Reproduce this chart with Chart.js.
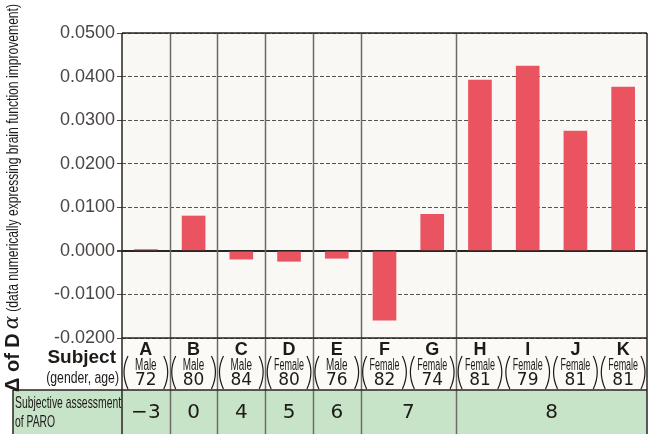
<!DOCTYPE html>
<html>
<head>
<meta charset="utf-8">
<script src="https://cdn.jsdelivr.net/npm/chart.js@4"></script>
<style>
  html, body { margin: 0; padding: 0; background: #fff; }
  #wrap { width: 656px; height: 434px; }
</style>
</head>
<body>
<div id="wrap"><canvas id="canvas" width="656" height="434"></canvas></div>
<script>
// données
const subjects = ["A", "B", "C", "D", "E", "F", "G", "H", "I", "J", "K"];
const genders = ["Male", "Male", "Male", "Female", "Male", "Female", "Female", "Female", "Female", "Female", "Female"];
const ages = ["72", "80", "84", "80", "76", "82", "74", "81", "79", "81", "81"];
const deltaDa = [0.0003, 0.0080, -0.0019, -0.0024, -0.0017, -0.0159, 0.0084, 0.0392, 0.0424, 0.0275, 0.0376];
const paroScores = [-3, 0, 4, 5, 6, 7, 7, 8, 8, 8, 8];
const yTicks = [0.05, 0.04, 0.03, 0.02, 0.01, 0, -0.01, -0.02];

const sans = "'Liberation Sans', Arial, sans-serif";
const round = "'DejaVu Sans', 'Noto Sans', sans-serif";

// texte étroit : police normale compressée horizontalement
function narrowText(ctx, text, x, y, size, sx) {
  ctx.save();
  ctx.font = size + "px " + sans;
  ctx.translate(x, y);
  ctx.scale(sx, 1);
  ctx.fillText(text, 0, 0);
  ctx.restore();
}

// regrouper les sujets qui ont la même note PARO
function paroGroups() {
  const groups = [];
  paroScores.forEach((s, i) => {
    const last = groups[groups.length - 1];
    if (last && last.score === s) last.end = i;
    else groups.push({ score: s, start: i, end: i });
  });
  return groups;
}

const tablePlugin = {
  id: "tablePlugin",
  beforeDraw(chart) {
    const { ctx, chartArea: a } = chart;
    ctx.save();
    ctx.fillStyle = "#f9f8f4";
    ctx.fillRect(a.left, a.top, a.right - a.left, a.bottom - a.top);
    ctx.fillStyle = "#fbfaf7";
    ctx.fillRect(a.left, a.bottom, a.right - a.left, 52);
    ctx.restore();
  },
  afterDraw(chart) {
    const { ctx, chartArea: a } = chart;
    const x = chart.scales.x;
    const half = (x.getPixelForValue(1) - x.getPixelForValue(0)) / 2;
    const rowTop = a.bottom;
    const greenTop = a.bottom + 52;
    const H = chart.height;
    ctx.save();

    // rangée verte
    ctx.fillStyle = "#c7e4c8";
    ctx.fillRect(13, greenTop, a.right - 13, H - greenTop);

    // lignes verticales entre groupes
    const groups = paroGroups();
    ctx.strokeStyle = "#6f6a66";
    ctx.lineWidth = 1.5;
    groups.forEach((g, gi) => {
      if (gi === 0) return;
      const px = Math.round(x.getPixelForValue(g.start) - half) + 0.5;
      ctx.beginPath();
      ctx.moveTo(px, a.top);
      ctx.lineTo(px, H);
      ctx.stroke();
    });

    // bordures
    ctx.strokeStyle = "#2a2522";
    ctx.lineWidth = 1.5;
    ctx.beginPath();
    ctx.moveTo(a.left, a.top); ctx.lineTo(a.right, a.top);
    ctx.moveTo(a.left, a.top); ctx.lineTo(a.left, H);
    ctx.moveTo(a.right, a.top); ctx.lineTo(a.right, H);
    ctx.moveTo(a.left, rowTop); ctx.lineTo(a.right, rowTop);
    ctx.moveTo(13, greenTop); ctx.lineTo(a.right, greenTop);
    ctx.moveTo(13, greenTop); ctx.lineTo(13, H);
    ctx.stroke();

    // sujets
    ctx.fillStyle = "#1e1a18";
    ctx.textAlign = "center";
    ctx.textBaseline = "middle";
    subjects.forEach((s, i) => {
      const cx = x.getPixelForValue(i);
      ctx.font = "bold 18px " + sans;
      ctx.fillText(s, cx, rowTop + 12);
      const g = genders[i];
      narrowText(ctx, g, cx, rowTop + 28, 16, g === "Female" ? 0.56 : 0.62);
      ctx.font = "17px " + round;
      ctx.fillText(ages[i], cx, rowTop + 43);
      // parenthèses
      ctx.strokeStyle = "#1e1a18";
      ctx.lineWidth = 1.2;
      const pw = half - 1;
      ctx.beginPath();
      ctx.moveTo(cx - pw + 5, rowTop + 18);
      ctx.quadraticCurveTo(cx - pw - 3, rowTop + 34, cx - pw + 5, rowTop + 51);
      ctx.moveTo(cx + pw - 5, rowTop + 18);
      ctx.quadraticCurveTo(cx + pw + 3, rowTop + 34, cx + pw - 5, rowTop + 51);
      ctx.stroke();
    });

    ctx.textAlign = "right";
    ctx.font = "bold 19px " + sans;
    ctx.fillText("Subject", 116, rowTop + 20);
    narrowText(ctx, "(gender, age)", 119, rowTop + 40, 17, 0.72);

    // évaluation PARO
    ctx.textAlign = "left";
    narrowText(ctx, "Subjective assessment", 15, greenTop + 13, 17, 0.61);
    narrowText(ctx, "of PARO", 15, greenTop + 32, 17, 0.61);
    ctx.textAlign = "center";
    ctx.font = "20px " + round;
    groups.forEach((g) => {
      const cx = (x.getPixelForValue(g.start) + x.getPixelForValue(g.end)) / 2;
      const label = g.score < 0 ? "\u2212" + Math.abs(g.score) : String(g.score);
      ctx.fillText(label, cx, greenTop + 23);
    });

    // titre de l'axe Y
    ctx.translate(13, 392);
    ctx.rotate(-Math.PI / 2);
    ctx.textAlign = "left";
    ctx.textBaseline = "middle";
    let pos = 0;
    ctx.font = "bold 20px " + sans;
    ctx.fillText("\u0394 of D", pos, 0);
    pos += ctx.measureText("\u0394 of D").width + 4;
    ctx.font = "italic 20px 'DejaVu Serif', serif";
    ctx.fillText("\u03b1", pos, 0);
    pos += ctx.measureText("\u03b1").width + 4;
    ctx.font = "16px " + sans;
    const rest = "(data numerically expressing brain function improvement)";
    const w = ctx.measureText(rest).width;
    const avail = 388 - pos;
    ctx.translate(pos, 1);
    ctx.scale(Math.min(1, avail / w), 1);
    ctx.fillText(rest, 0, 0);
    ctx.restore();
  },
};

const ctx = document.getElementById("canvas").getContext("2d");
new Chart(ctx, {
  type: "bar",
  data: {
    labels: subjects,
    datasets: [
      {
        data: deltaDa,
        backgroundColor: "#ea5461",
        barThickness: 23,
      },
    ],
  },
  options: {
    responsive: false,
    animation: false,
    layout: { padding: { left: 0, right: 9, top: 33, bottom: 96 } },
    plugins: { legend: { display: false }, tooltip: { enabled: false } },
    scales: {
      x: { display: false, offset: true },
      y: {
        min: -0.02,
        max: 0.05,
        afterFit: (scale) => { scale.width = 122; },
        afterBuildTicks: (scale) => {
          scale.ticks = yTicks.map((v) => ({ value: v }));
        },
        ticks: {
          color: "#4a4644",
          font: { family: sans, size: 18 },
          padding: 2,
          callback: (v) => Number(v).toFixed(4),
        },
        grid: {
          color: (c) => (c.tick && c.tick.value === 0 ? "#2a2522" : "#555"),
          lineWidth: (c) => (c.tick && c.tick.value === 0 ? 2 : 1),
          tickLength: 5,
          tickColor: "#444",
        },
        border: {
          display: false,
          dash: (c) => (c.tick && c.tick.value === 0 ? [] : [4, 2]),
        },
      },
    },
  },
  plugins: [tablePlugin],
});
</script>
</body>
</html>
